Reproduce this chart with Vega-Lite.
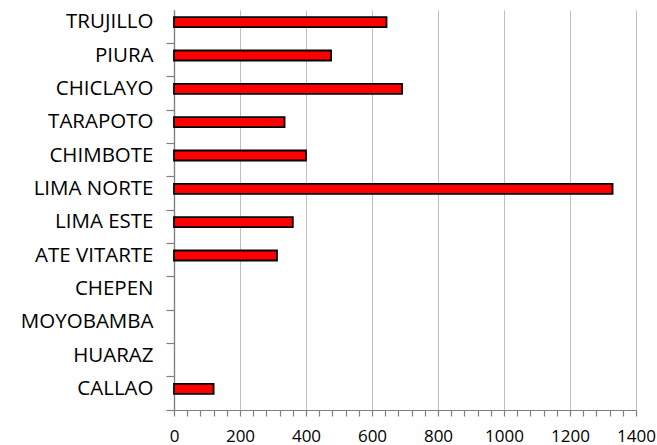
{
  "$schema": "https://vega.github.io/schema/vega-lite/v6.json",
  "autosize": "none",
  "width": 462,
  "height": 400,
  "padding": {"left": 174, "top": 10, "right": 21, "bottom": 35},
  "background": "white",
  "data": {
    "values": [
      {"sede": "TRUJILLO", "valor": 644},
      {"sede": "PIURA", "valor": 476},
      {"sede": "CHICLAYO", "valor": 691},
      {"sede": "TARAPOTO", "valor": 335},
      {"sede": "CHIMBOTE", "valor": 400},
      {"sede": "LIMA NORTE", "valor": 1329},
      {"sede": "LIMA ESTE", "valor": 360},
      {"sede": "ATE VITARTE", "valor": 312},
      {"sede": "CHEPEN", "valor": null},
      {"sede": "MOYOBAMBA", "valor": null},
      {"sede": "HUARAZ", "valor": null},
      {"sede": "CALLAO", "valor": 120}
    ]
  },
  "mark": {"type": "bar", "fill": "#FF0000", "stroke": "#000000", "strokeWidth": 1.8, "height": {"band": 0.3}, "yOffset": -4.5},
  "encoding": {
    "y": {
      "field": "sede",
      "type": "nominal",
      "sort": null,
      "scale": {
        "domain": ["TRUJILLO", "PIURA", "CHICLAYO", "TARAPOTO", "CHIMBOTE", "LIMA NORTE", "LIMA ESTE", "ATE VITARTE", "CHEPEN", "MOYOBAMBA", "HUARAZ", "CALLAO"],
        "paddingInner": 0,
        "paddingOuter": 0
      },
      "axis": {
        "title": null,
        "domain": true,
        "ticks": true,
        "bandPosition": 1,
        "tickSize": 8,
        "tickWidth": 1.2,
        "tickColor": "#808080",
        "domainColor": "#808080",
        "domainWidth": 1.2,
        "grid": true,
        "gridColor": "#8C8C8C",
        "gridWidth": 1.2,
        "gridOpacity": {"condition": {"test": "datum.value === 'CALLAO'", "value": 1}, "value": 0},
        "labelPadding": 13,
        "labelOffset": -4.5,
        "labelFont": "Open Sans",
        "labelFontSize": 20.5,
        "labelColor": "#000000"
      }
    },
    "x": {
      "field": "valor",
      "type": "quantitative",
      "scale": {"domain": [0, 1400], "nice": false},
      "axis": {
        "title": null,
        "domain": true,
        "ticks": true,
        "values": [0, 40, 80, 120, 160, 200, 240, 280, 320, 360, 400, 440, 480, 520, 560, 600, 640, 680, 720, 760, 800, 840, 880, 920, 960, 1000, 1040, 1080, 1120, 1160, 1200, 1240, 1280, 1320, 1360, 1400],
        "labelExpr": "datum.value % 200 === 0 ? datum.label : ''",
        "format": "d",
        "tickSize": 6,
        "tickWidth": 1.2,
        "tickColor": "#808080",
        "domainColor": "#808080",
        "domainWidth": 1.2,
        "grid": true,
        "gridColor": {"condition": {"test": "datum.value === 0", "value": "#8C8C8C"}, "value": "#BFBFBF"},
        "gridWidth": {"condition": {"test": "datum.value === 0", "value": 1.2}, "value": 1},
        "gridOpacity": {"condition": {"test": "datum.value % 200 === 0", "value": 1}, "value": 0},
        "labelPadding": 12,
        "labelFont": "Open Sans",
        "labelFontSize": 17,
        "labelColor": "#000000",
        "labelFlush": false,
        "labelOverlap": false
      }
    }
  },
  "config": {"view": {"stroke": null}}
}
